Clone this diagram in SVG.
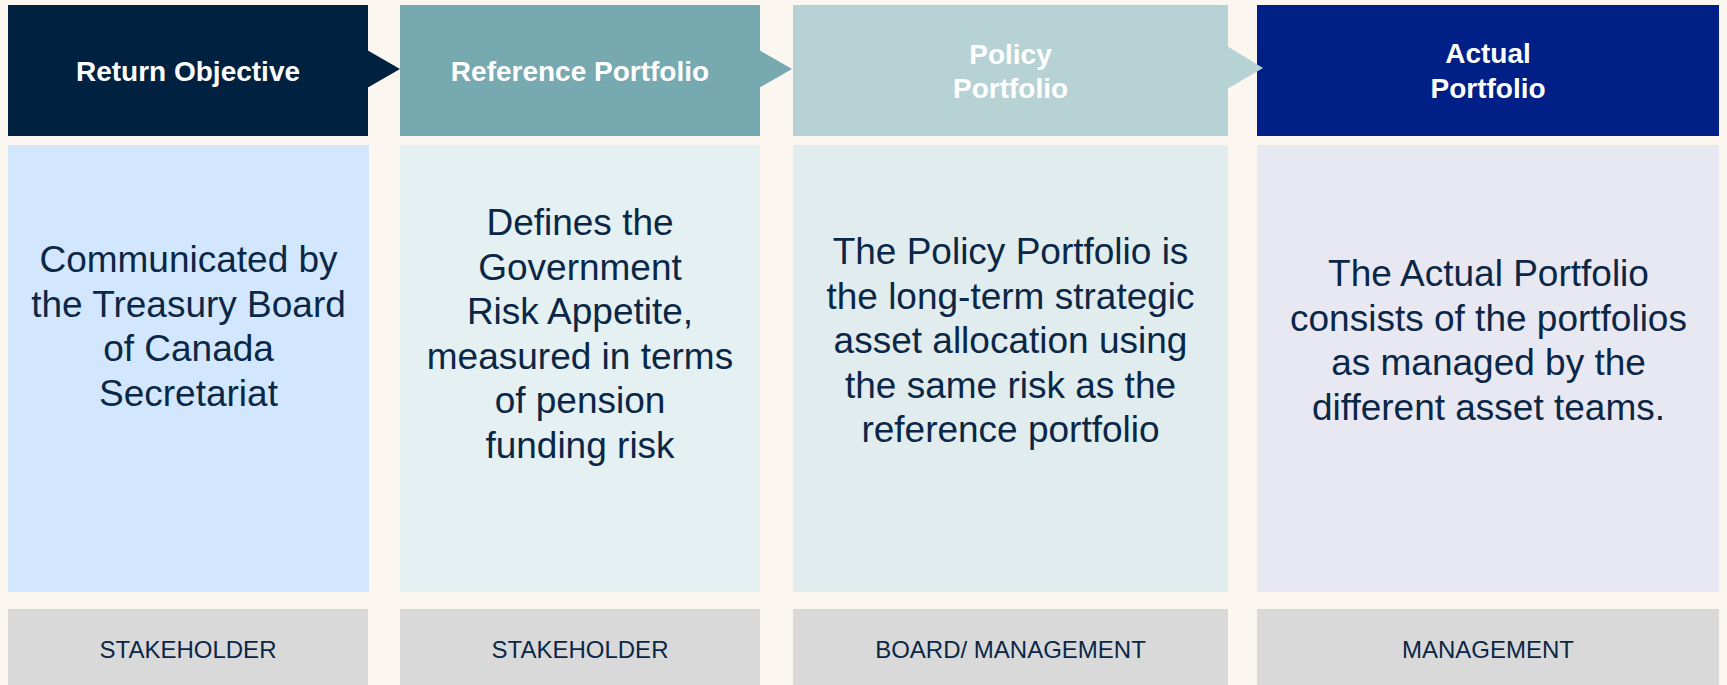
<svg xmlns="http://www.w3.org/2000/svg" width="1727" height="685" viewBox="0 0 1727 685">
<style>
.hd{font-family:"Liberation Sans",Arial,sans-serif;font-weight:bold;font-size:28px;fill:#ffffff;text-anchor:middle}
.bd{font-family:"Liberation Sans",Arial,sans-serif;font-size:37px;fill:#0B2747;text-anchor:middle}
.ft{font-family:"Liberation Sans",Arial,sans-serif;font-size:24px;fill:#0B2747;text-anchor:middle}
.foot{fill:#D9D9D9}
</style>
<rect x="0" y="0" width="1727" height="685" fill="#FBF6F0"/>
<g id="col1">
<rect x="8" y="5" width="360" height="131" fill="#002140"/>
<text class="hd" x="188" y="81">Return Objective</text>
<rect x="8" y="145" width="361" height="447" fill="#D2E7FD"/>
<text class="bd" x="188.5"><tspan x="188.5" y="272">Communicated by</tspan><tspan x="188.5" y="316.5">the Treasury Board</tspan><tspan x="188.5" y="361">of Canada</tspan><tspan x="188.5" y="405.5">Secretariat</tspan></text>
<rect class="foot" x="8" y="609" width="360" height="76"/>
<text class="ft" x="188" y="658">STAKEHOLDER</text>
</g>
<g id="col2">
<rect x="400" y="5" width="360" height="131" fill="#77A9B0"/>
<text class="hd" x="580" y="81">Reference Portfolio</text>
<rect x="400" y="145" width="360" height="447" fill="#E4F0F2"/>
<text class="bd" x="580"><tspan x="580" y="235">Defines the</tspan><tspan x="580" y="279.5">Government</tspan><tspan x="580" y="324">Risk Appetite,</tspan><tspan x="580" y="368.5">measured in terms</tspan><tspan x="580" y="413">of pension</tspan><tspan x="580" y="457.5">funding risk</tspan></text>
<rect class="foot" x="400" y="609" width="360" height="76"/>
<text class="ft" x="580" y="658">STAKEHOLDER</text>
</g>
<g id="col3">
<rect x="793" y="5" width="435" height="131" fill="#B7D2D5"/>
<text class="hd"><tspan x="1010.5" y="64">Policy</tspan><tspan x="1010.5" y="98">Portfolio</tspan></text>
<rect x="793" y="145" width="435" height="447" fill="#E1ECEE"/>
<text class="bd"><tspan x="1010.5" y="264">The Policy Portfolio is</tspan><tspan x="1010.5" y="308.5">the long-term strategic</tspan><tspan x="1010.5" y="353">asset allocation using</tspan><tspan x="1010.5" y="397.5">the same risk as the</tspan><tspan x="1010.5" y="442">reference portfolio</tspan></text>
<rect class="foot" x="793" y="609" width="435" height="76"/>
<text class="ft" x="1010.5" y="658">BOARD/ MANAGEMENT</text>
</g>
<g id="col4">
<rect x="1257" y="5" width="462" height="131" fill="#001F87"/>
<text class="hd"><tspan x="1488" y="63">Actual</tspan><tspan x="1488" y="98">Portfolio</tspan></text>
<rect x="1257" y="145" width="462" height="447" fill="#E8E8F2"/>
<text class="bd"><tspan x="1488.5" y="286">The Actual Portfolio</tspan><tspan x="1488.5" y="330.5">consists of the portfolios</tspan><tspan x="1488.5" y="375">as managed by the</tspan><tspan x="1488.5" y="419.5">different asset teams.</tspan></text>
<rect class="foot" x="1257" y="609" width="462" height="76"/>
<text class="ft" x="1488" y="658">MANAGEMENT</text>
</g>
<g id="connectors">
<polygon points="367,50 400,69 367,88" fill="#002140"/>
<polygon points="759,50 792,69 759,88" fill="#77A9B0"/>
<polygon points="1227,46 1263,68 1227,89" fill="#B7D2D5"/>
</g>
</svg>
